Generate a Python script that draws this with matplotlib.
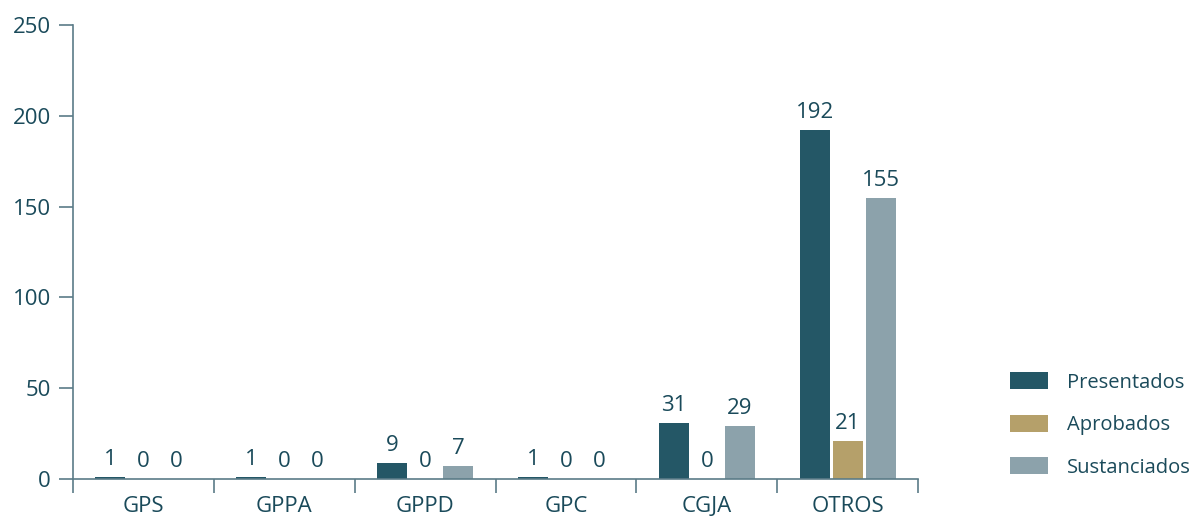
import numpy as np
import matplotlib
matplotlib.use("Agg")
import matplotlib.pyplot as plt
from matplotlib.patches import Patch

plt.rcParams['font.family'] = ['Open Sans', 'DejaVu Sans']
plt.rcParams['font.weight'] = 'medium'

# Data
categories = ["GPS", "GPPA", "GPPD", "GPC", "CGJA", "OTROS"]
presentados = [1, 1, 9, 1, 31, 192]
aprobados = [0, 0, 0, 0, 0, 21]
sustanciados = [0, 0, 7, 0, 29, 155]
series_names = ["Presentados", "Aprobados", "Sustanciados"]

colors = ["#245766", "#b5a06a", "#8ca2ab"]
text_color = "#1a4a5a"
axis_color = "#5b7c88"
fs = 16

fig = plt.figure(figsize=(11.97, 5.18), dpi=100)
ax = fig.add_axes([73 / 1197, 39 / 518, (918 - 73) / 1197, (479 - 25) / 518])

x = np.arange(len(categories))
width = 0.213
offset = 0.234
for i, (vals, col) in enumerate(zip([presentados, aprobados, sustanciados], colors)):
    bars = ax.bar(x + (i - 1) * offset, vals, width=width, color=col)
    ax.bar_label(bars, labels=[str(v) for v in vals], padding=5,
                 fontsize=fs, color=text_color)

ax.set_xlim(-0.5, len(categories) - 0.5)
ax.set_ylim(0, 250)
ax.set_yticks([0, 50, 100, 150, 200, 250])

# boundaries as major ticks, labels as minor ticks
ax.set_xticks(np.arange(len(categories) + 1) - 0.5)
ax.set_xticklabels([])
ax.set_xticks(x, minor=True)
ax.set_xticklabels(categories, minor=True)
ax.tick_params(axis="x", which="major", direction="out", length=10,
               color=axis_color, width=1.2)
ax.tick_params(axis="x", which="minor", length=0, pad=12,
               labelsize=fs, labelcolor=text_color)
ax.tick_params(axis="y", direction="out", length=10, color=axis_color,
               width=1.2, labelsize=fs, labelcolor=text_color, pad=6)

for s in ["top", "right"]:
    ax.spines[s].set_visible(False)
for s in ["left", "bottom"]:
    ax.spines[s].set_color(axis_color)
    ax.spines[s].set_linewidth(1.2)

handles = [Patch(facecolor=c, label=n) for c, n in zip(colors, series_names)]
fig.legend(handles=handles, loc="center left",
           bbox_to_anchor=(1010 / 1197, 1 - 425 / 518), frameon=False,
           fontsize=14.5, labelcolor=text_color, handlelength=1.9,
           handleheight=0.9, handletextpad=0.95, labelspacing=1.1,
           borderpad=0, borderaxespad=0)

fig.savefig("out.png", dpi=100)
